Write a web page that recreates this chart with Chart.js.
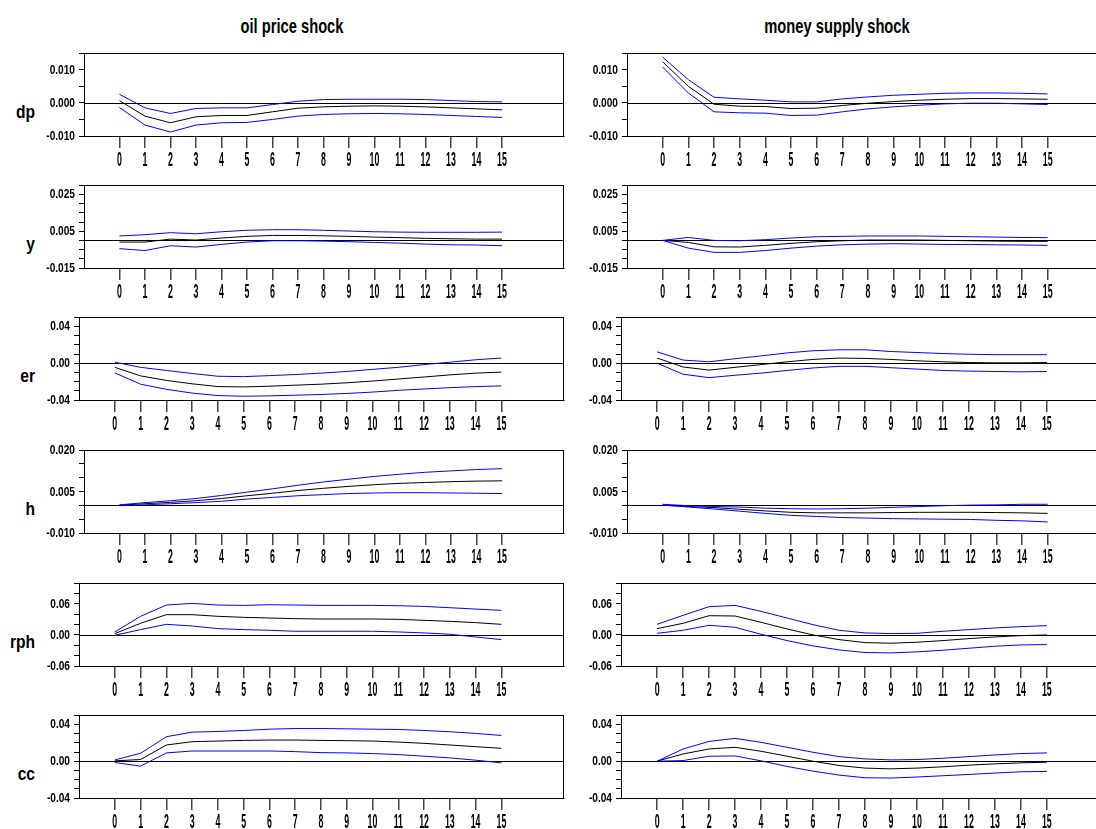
<!DOCTYPE html>
<html>
<head>
<meta charset="utf-8">
<script src="https://cdn.jsdelivr.net/npm/chart.js@4.4.1/dist/chart.umd.min.js"></script>
<style>
  html, body { margin: 0; padding: 0; background: #fff; overflow: hidden; }
  #wrap { position: relative; width: 1096px; height: 829px; overflow: hidden; }
  #wrap canvas { position: absolute; }
  .title {
    position: absolute; top: 15px; white-space: nowrap; color: #000;
    font: bold 21px "Liberation Sans", Arial, sans-serif; line-height: 21px;
    transform: translateX(-50%) scaleX(0.70);
  }
  .rowlab {
    position: absolute; left: 0; width: 35px; text-align: right; color: #000; white-space: nowrap;
    font: bold 19px "Liberation Sans", Arial, sans-serif; line-height: 19px;
    transform: scaleX(0.82); transform-origin: right center;
  }
</style>
</head>
<body>
<div id="wrap"></div>
<script>
// --- data: impulse responses (lower band, response, upper band) ---
const horizons = [0, 1, 2, 3, 4, 5, 6, 7, 8, 9, 10, 11, 12, 13, 14, 15];
const shocks = ['oil price shock', 'money supply shock'];

const dpOilMid = [0.0007, -0.0040, -0.0060, -0.0042, -0.0038, -0.0038, -0.0027, -0.0016, -0.0012, -0.0010, -0.0009, -0.0010, -0.0012, -0.0015, -0.0018, -0.0021];
const dpOilUp  = [0.0026, -0.0015, -0.0032, -0.0017, -0.0015, -0.0015, -0.0005, 0.0005, 0.0010, 0.0011, 0.0011, 0.0011, 0.0010, 0.0007, 0.0004, 0.0003];
const dpOilLo  = [-0.0014, -0.0067, -0.0088, -0.0067, -0.0060, -0.0059, -0.0050, -0.0040, -0.0035, -0.0033, -0.0032, -0.0033, -0.0035, -0.0038, -0.0041, -0.0044];
const dpMoneyMid = [0.0124, 0.0050, -0.0004, -0.0010, -0.0011, -0.0017, -0.0016, -0.0008, -0.0001, 0.0004, 0.0008, 0.0011, 0.0013, 0.0013, 0.0012, 0.0011];
const dpMoneyUp  = [0.0138, 0.0070, 0.0017, 0.0012, 0.0008, 0.0003, 0.0003, 0.0012, 0.0018, 0.0023, 0.0026, 0.0029, 0.0030, 0.0030, 0.0029, 0.0027];
const dpMoneyLo  = [0.0108, 0.0030, -0.0027, -0.0030, -0.0031, -0.0038, -0.0037, -0.0027, -0.0018, -0.0012, -0.0007, -0.0003, -0.0001, -0.0001, -0.0003, -0.0005];

const yOilMid = [-0.0009, -0.0009, 0.0007, 0.0002, 0.0013, 0.0022, 0.0027, 0.0027, 0.0025, 0.0022, 0.0018, 0.0015, 0.0011, 0.0009, 0.0007, 0.0007];
const yOilUp  = [0.0024, 0.0031, 0.0042, 0.0036, 0.0047, 0.0055, 0.0058, 0.0058, 0.0055, 0.0051, 0.0047, 0.0045, 0.0044, 0.0044, 0.0044, 0.0045];
const yOilLo  = [-0.0045, -0.0055, -0.0029, -0.0036, -0.0022, -0.0009, -0.0002, -0.0002, -0.0004, -0.0007, -0.0011, -0.0015, -0.0020, -0.0024, -0.0025, -0.0029];
const yMoneyMid = [0.0000, -0.0011, -0.0035, -0.0036, -0.0027, -0.0016, -0.0007, -0.0002, 0.0002, 0.0002, 0.0002, 0.0000, -0.0002, -0.0004, -0.0005, -0.0005];
const yMoneyUp  = [0.0000, 0.0016, 0.0000, -0.0002, 0.0004, 0.0013, 0.0020, 0.0022, 0.0024, 0.0024, 0.0024, 0.0022, 0.0020, 0.0018, 0.0016, 0.0015];
const yMoneyLo  = [0.0000, -0.0042, -0.0065, -0.0065, -0.0055, -0.0042, -0.0031, -0.0024, -0.0020, -0.0018, -0.0020, -0.0022, -0.0022, -0.0024, -0.0025, -0.0027];

const erOilMid = [-0.0045, -0.0138, -0.0187, -0.0224, -0.0254, -0.0258, -0.0250, -0.0239, -0.0228, -0.0213, -0.0194, -0.0172, -0.0150, -0.0127, -0.0108, -0.0097];
const erOilUp  = [0.0011, -0.0045, -0.0079, -0.0112, -0.0142, -0.0146, -0.0135, -0.0123, -0.0108, -0.0090, -0.0067, -0.0045, -0.0015, 0.0011, 0.0037, 0.0056];
const erOilLo  = [-0.0105, -0.0228, -0.0284, -0.0325, -0.0352, -0.0359, -0.0355, -0.0348, -0.0340, -0.0329, -0.0314, -0.0295, -0.0280, -0.0266, -0.0254, -0.0247];
const erMoneyMid = [0.0056, -0.0041, -0.0075, -0.0045, -0.0015, 0.0015, 0.0041, 0.0056, 0.0052, 0.0041, 0.0026, 0.0015, 0.0007, 0.0004, 0.0004, 0.0007];
const erMoneyUp  = [0.0123, 0.0034, 0.0015, 0.0049, 0.0079, 0.0112, 0.0135, 0.0146, 0.0146, 0.0127, 0.0116, 0.0105, 0.0097, 0.0093, 0.0093, 0.0093];
const erMoneyLo  = [0.0000, -0.0120, -0.0157, -0.0131, -0.0108, -0.0079, -0.0052, -0.0034, -0.0034, -0.0049, -0.0064, -0.0079, -0.0086, -0.0090, -0.0094, -0.0090];

const hOilMid = [0.0001, 0.0006, 0.0011, 0.0017, 0.0025, 0.0035, 0.0044, 0.0054, 0.0062, 0.0069, 0.0075, 0.0080, 0.0083, 0.0086, 0.0088, 0.0089];
const hOilUp  = [0.0002, 0.0010, 0.0017, 0.0025, 0.0036, 0.0048, 0.0060, 0.0073, 0.0085, 0.0095, 0.0105, 0.0113, 0.0120, 0.0125, 0.0130, 0.0133];
const hOilLo  = [-0.0001, 0.0002, 0.0006, 0.0010, 0.0015, 0.0023, 0.0029, 0.0035, 0.0039, 0.0043, 0.0045, 0.0046, 0.0046, 0.0045, 0.0044, 0.0043];
const hMoneyMid = [0.0001, -0.0004, -0.0008, -0.0014, -0.0020, -0.0025, -0.0027, -0.0027, -0.0027, -0.0026, -0.0025, -0.0025, -0.0025, -0.0026, -0.0027, -0.0029];
const hMoneyUp  = [0.0004, -0.0001, -0.0004, -0.0006, -0.0010, -0.0012, -0.0013, -0.0012, -0.0010, -0.0007, -0.0004, -0.0001, 0.0001, 0.0002, 0.0004, 0.0004];
const hMoneyLo  = [0.0001, -0.0006, -0.0013, -0.0021, -0.0029, -0.0036, -0.0040, -0.0044, -0.0046, -0.0048, -0.0049, -0.0050, -0.0051, -0.0054, -0.0056, -0.0060];

const rphOilMid = [0.0026, 0.0225, 0.0392, 0.0392, 0.0360, 0.0340, 0.0327, 0.0315, 0.0308, 0.0308, 0.0308, 0.0302, 0.0282, 0.0263, 0.0238, 0.0205];
const rphOilUp  = [0.0058, 0.0360, 0.0578, 0.0610, 0.0578, 0.0571, 0.0584, 0.0578, 0.0571, 0.0571, 0.0571, 0.0565, 0.0552, 0.0526, 0.0500, 0.0475];
const rphOilLo  = [-0.0006, 0.0103, 0.0205, 0.0173, 0.0122, 0.0103, 0.0090, 0.0071, 0.0071, 0.0071, 0.0071, 0.0058, 0.0039, 0.0013, -0.0039, -0.0090];
const rphMoneyMid = [0.0122, 0.0225, 0.0372, 0.0366, 0.0244, 0.0116, 0.0000, -0.0090, -0.0148, -0.0160, -0.0141, -0.0109, -0.0071, -0.0039, -0.0013, 0.0000];
const rphMoneyUp  = [0.0205, 0.0379, 0.0546, 0.0571, 0.0456, 0.0327, 0.0199, 0.0090, 0.0039, 0.0026, 0.0032, 0.0071, 0.0103, 0.0135, 0.0160, 0.0180];
const rphMoneyLo  = [0.0032, 0.0090, 0.0186, 0.0148, 0.0013, -0.0109, -0.0212, -0.0289, -0.0340, -0.0347, -0.0327, -0.0295, -0.0257, -0.0218, -0.0193, -0.0186];

const ccOilMid = [0.0004, 0.0018, 0.0176, 0.0212, 0.0219, 0.0226, 0.0230, 0.0230, 0.0226, 0.0223, 0.0219, 0.0208, 0.0194, 0.0176, 0.0158, 0.0140];
const ccOilUp  = [0.0014, 0.0086, 0.0266, 0.0316, 0.0323, 0.0334, 0.0348, 0.0355, 0.0355, 0.0352, 0.0348, 0.0345, 0.0334, 0.0320, 0.0302, 0.0280];
const ccOilLo  = [-0.0014, -0.0054, 0.0090, 0.0111, 0.0111, 0.0111, 0.0111, 0.0104, 0.0093, 0.0090, 0.0083, 0.0072, 0.0054, 0.0036, 0.0011, -0.0018];
const ccMoneyMid = [0.0000, 0.0079, 0.0133, 0.0151, 0.0108, 0.0054, 0.0000, -0.0047, -0.0075, -0.0083, -0.0075, -0.0061, -0.0043, -0.0029, -0.0018, -0.0011];
const ccMoneyUp  = [0.0000, 0.0133, 0.0215, 0.0248, 0.0205, 0.0151, 0.0097, 0.0050, 0.0025, 0.0014, 0.0018, 0.0032, 0.0050, 0.0068, 0.0083, 0.0090];
const ccMoneyLo  = [0.0000, 0.0007, 0.0054, 0.0057, 0.0004, -0.0057, -0.0108, -0.0151, -0.0180, -0.0183, -0.0172, -0.0158, -0.0144, -0.0129, -0.0115, -0.0111];

// y tick labels shown on each row
const dpTicks  = ['-0.010', '0.000', '0.010'];
const yTicks   = ['-0.015', '0.005', '0.025'];
const erTicks  = ['-0.04', '0.00', '0.04'];
const hTicks   = ['-0.010', '0.005', '0.020'];
const rphTicks = ['-0.06', '0.00', '0.06'];
const ccTicks  = ['-0.04', '0.00', '0.04'];

// --- layout ---
const FONT = '"Liberation Sans", Arial, sans-serif';
const YW = 70, PAD_TOP = 10, PAD_RIGHT = 3, PLOT_H = 83, XH = 40;
const colRight = [564, 1110];
const titleX = [292, 837];

const rows = [
  { name: 'dp',  top: 53,  left: [84, 627], min: -0.010, max: 0.015, step: 0.005, ticks: dpTicks,
    series: [[dpOilLo, dpOilMid, dpOilUp], [dpMoneyLo, dpMoneyMid, dpMoneyUp]] },
  { name: 'y',   top: 185, left: [84, 627], min: -0.015, max: 0.030, step: 0.005, ticks: yTicks,
    series: [[yOilLo, yOilMid, yOilUp], [yMoneyLo, yMoneyMid, yMoneyUp]] },
  { name: 'er',  top: 317, left: [79, 621], min: -0.04, max: 0.05, step: 0.01, ticks: erTicks,
    series: [[erOilLo, erOilMid, erOilUp], [erMoneyLo, erMoneyMid, erMoneyUp]] },
  { name: 'h',   top: 450, left: [84, 627], min: -0.010, max: 0.020, step: 0.005, ticks: hTicks,
    series: [[hOilLo, hOilMid, hOilUp], [hMoneyLo, hMoneyMid, hMoneyUp]] },
  { name: 'rph', top: 583, left: [79, 621], min: -0.06, max: 0.10, step: 0.02, ticks: rphTicks,
    series: [[rphOilLo, rphOilMid, rphOilUp], [rphMoneyLo, rphMoneyMid, rphMoneyUp]] },
  { name: 'cc',  top: 715, left: [79, 621], min: -0.04, max: 0.05, step: 0.01, ticks: ccTicks,
    series: [[ccOilLo, ccOilMid, ccOilUp], [ccMoneyLo, ccMoneyMid, ccMoneyUp]] },
];

// squeezed text, drawn like the narrow EViews font
const narrowText = (ctx, text, x, y, sx) => {
  ctx.save();
  ctx.translate(x, y);
  ctx.scale(sx, 1);
  ctx.fillText(text, 0, 0);
  ctx.restore();
};

// box, zero line, tick labels
const framePlugin = {
  id: 'frame',
  beforeDatasetsDraw(chart) {
    const { ctx, chartArea: a } = chart;
    const y0 = Math.round(chart.scales.y.getPixelForValue(0)) + 0.5;
    ctx.save();
    ctx.strokeStyle = '#000';
    ctx.lineWidth = 1;
    ctx.beginPath();
    ctx.moveTo(a.left, y0);
    ctx.lineTo(a.right, y0);
    ctx.stroke();
    ctx.restore();
  },
  afterDraw(chart, args, opts) {
    const { ctx, chartArea: a } = chart;
    ctx.save();
    ctx.strokeStyle = '#000';
    ctx.lineWidth = 1;
    ctx.strokeRect(Math.round(a.left) + 0.5, Math.round(a.top) + 0.5, Math.round(a.right - a.left) - 1, Math.round(a.bottom - a.top));
    ctx.fillStyle = '#000';

    const xs = chart.scales.x;
    ctx.font = 'bold 21px ' + FONT;
    ctx.textAlign = 'center';
    ctx.textBaseline = 'alphabetic';
    xs.ticks.forEach(t => narrowText(ctx, String(t.value), xs.getPixelForValue(t.value), a.bottom + 30, 0.42));

    const ys = chart.scales.y;
    ctx.font = 'bold 13px ' + FONT;
    ctx.textAlign = 'right';
    ctx.textBaseline = 'middle';
    opts.yLabels.forEach(l => narrowText(ctx, l, a.left - 9, ys.getPixelForValue(parseFloat(l)) + 0.5, 0.78));
    ctx.restore();
  }
};

const wrap = document.getElementById('wrap');

shocks.forEach((s, c) => {
  const d = document.createElement('div');
  d.className = 'title';
  d.style.left = titleX[c] + 'px';
  d.textContent = s;
  wrap.appendChild(d);
});

rows.forEach(row => {
  const lab = document.createElement('div');
  lab.className = 'rowlab';
  lab.style.top = (row.top + 49) + 'px';
  lab.textContent = row.name;
  wrap.appendChild(lab);

  [0, 1].forEach(c => {
    const [lo, mid, up] = row.series[c];
    const axisLeft = row.left[c];
    const cv = document.createElement('canvas');
    const w = YW + (colRight[c] - axisLeft) + PAD_RIGHT;
    const h = PAD_TOP + PLOT_H + XH;
    cv.width = w; cv.height = h;
    cv.style.left = (axisLeft - YW) + 'px';
    cv.style.top = (row.top - PAD_TOP) + 'px';
    cv.style.width = w + 'px'; cv.style.height = h + 'px';
    wrap.appendChild(cv);

    const line = (data, color) => ({
      data, borderColor: color, borderWidth: 1, pointRadius: 0, tension: 0, fill: false
    });

    new Chart(cv.getContext('2d'), {
      type: 'line',
      data: {
        labels: horizons,
        datasets: [line(up, '#0000ff'), line(lo, '#0000ff'), line(mid, '#000000')]
      },
      options: {
        responsive: false,
        animation: false,
        devicePixelRatio: 1,
        layout: { padding: { top: PAD_TOP, right: PAD_RIGHT, left: 0, bottom: 0 } },
        plugins: { legend: { display: false }, tooltip: { enabled: false }, frame: { yLabels: row.ticks } },
        scales: {
          x: {
            type: 'linear', min: -1.39, max: 17.43,
            afterBuildTicks: sc => { sc.ticks = horizons.map(v => ({ value: v })); },
            afterFit: sc => { sc.height = XH; },
            ticks: { display: false },
            grid: { drawOnChartArea: false, drawTicks: true, tickLength: 12, color: '#444', lineWidth: 1.5 },
            border: { display: true, color: '#000', width: 1 }
          },
          y: {
            min: row.min, max: row.max,
            afterFit: sc => { sc.width = YW; },
            ticks: { stepSize: row.step, autoSkip: false, callback: () => '' },
            grid: { drawOnChartArea: false, drawTicks: true, tickLength: 5, color: '#000', lineWidth: 1 },
            border: { display: true, color: '#000', width: 1 }
          }
        }
      },
      plugins: [framePlugin]
    });
  });
});
</script>
</body>
</html>
